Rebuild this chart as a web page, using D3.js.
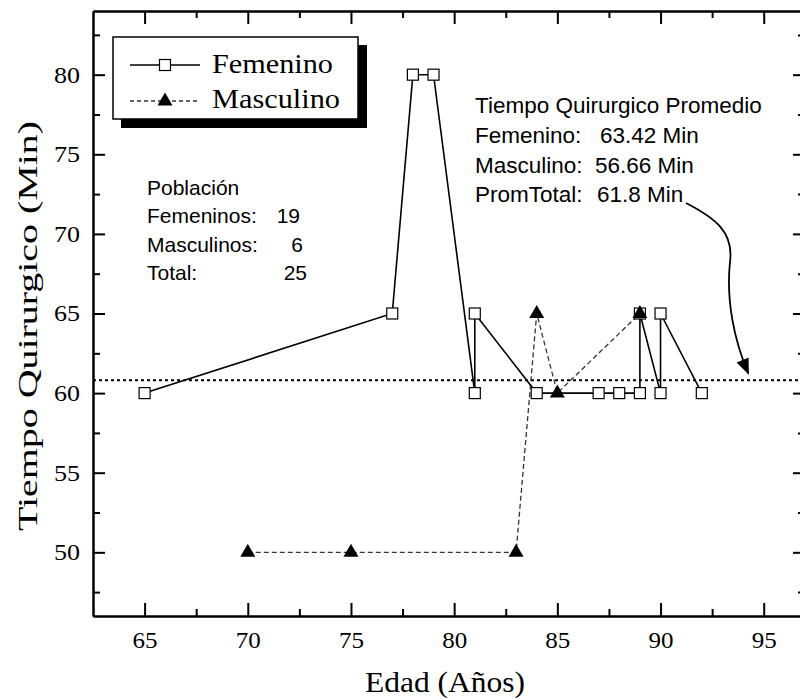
<!DOCTYPE html>
<html>
<head>
<meta charset="UTF-8">
<script src="https://cdn.jsdelivr.net/npm/d3@7"></script>
<style>
  body { margin: 0; background: #fff; }
  svg text.tl { font-family: "Liberation Serif", "Times New Roman", serif !important; }
</style>
</head>
<body>
<script>
// data
var femAge  = [65, 77, 78, 79, 81, 81, 84, 87, 88, 89, 89, 90, 90, 92];
var femTime = [60, 65, 80, 80, 60, 65, 60, 60, 60, 60, 65, 60, 65, 60];
var masAge  = [70, 75, 83, 84, 85, 89];
var masTime = [50, 50, 50, 65, 60, 65];
var meanLine = 60.8;

var xTicks = [65, 70, 75, 80, 85, 90, 95];
var xMinor = [67.5, 72.5, 77.5, 82.5, 87.5, 92.5];
var yTicks = [50, 55, 60, 65, 70, 75, 80];
var yMinor = [47.5, 52.5, 57.5, 62.5, 67.5, 72.5, 77.5, 82.5];

var seriesNames = ["Femenino", "Masculino"];
var statsTitle = "Tiempo Quirurgico Promedio";
var statsLabels = ["Femenino:", "Masculino:", "PromTotal:"];
var statsValues = ["63.42 Min", "56.66 Min", "61.8 Min"];
var popTitle = "Población";
var popLabels = ["Femeninos:", "Masculinos:", "Total:"];
var popValues = ["19", "6", "25"];

var W = 800, H = 698;
var pLeft = 93, pRight = 805, pTop = 11, pBottom = 616;
var serif = "'Liberation Serif', 'Times New Roman', serif";
var sans = "'Liberation Sans', Arial, Helvetica, sans-serif";

var x = d3.scaleLinear().domain([62.5, 97]).range([pLeft, pRight]);
var y = d3.scaleLinear().domain([46, 84]).range([pBottom, pTop]);

var svg = d3.select("body").append("svg")
  .attr("width", W).attr("height", H)
  .style("font-family", serif);

function styleAxis(g) {
  g.attr("font-family", null);
  g.selectAll("path.domain").attr("stroke", "#000").attr("stroke-width", 2);
  g.selectAll(".tick line").attr("stroke", "#000").attr("stroke-width", 2);
  g.selectAll("text").attr("class", "tl").attr("font-family", "Liberation Serif");
  return g;
}

// major + minor ticks on all four sides, pointing inward
var bx = svg.append("g").attr("transform", "translate(0," + pBottom + ")")
  .call(d3.axisBottom(x).tickValues(xTicks).tickSize(-13).tickSizeOuter(0).tickPadding(16));
styleAxis(bx);
bx.selectAll("text").attr("font-size", 23).attr("fill", "#000")
  .attr("textLength", 25).attr("lengthAdjust", "spacingAndGlyphs");
styleAxis(svg.append("g").attr("transform", "translate(0," + pBottom + ")")
  .call(d3.axisBottom(x).tickValues(xMinor).tickSize(-7).tickSizeOuter(0).tickFormat("")));

styleAxis(svg.append("g").attr("transform", "translate(0," + pTop + ")")
  .call(d3.axisTop(x).tickValues(xTicks).tickSize(-13).tickSizeOuter(0).tickFormat("")));
styleAxis(svg.append("g").attr("transform", "translate(0," + pTop + ")")
  .call(d3.axisTop(x).tickValues(xMinor).tickSize(-7).tickSizeOuter(0).tickFormat("")));

var ly = svg.append("g").attr("transform", "translate(" + pLeft + ",0)")
  .call(d3.axisLeft(y).tickValues(yTicks).tickSize(-12).tickSizeOuter(0).tickPadding(13));
styleAxis(ly);
ly.selectAll("text").attr("font-size", 23).attr("fill", "#000")
  .attr("textLength", 26).attr("lengthAdjust", "spacingAndGlyphs");
styleAxis(svg.append("g").attr("transform", "translate(" + pLeft + ",0)")
  .call(d3.axisLeft(y).tickValues(yMinor).tickSize(-7).tickSizeOuter(0).tickFormat("")));

styleAxis(svg.append("g").attr("transform", "translate(" + pRight + ",0)")
  .call(d3.axisRight(y).tickValues(yTicks).tickSize(-12).tickSizeOuter(0).tickFormat("")));
styleAxis(svg.append("g").attr("transform", "translate(" + pRight + ",0)")
  .call(d3.axisRight(y).tickValues(yMinor).tickSize(-7).tickSizeOuter(0).tickFormat("")));

// axis titles
svg.append("text")
  .attr("x", 445).attr("y", 692)
  .attr("text-anchor", "middle")
  .style("font-size", "30px")
  .attr("textLength", 160).attr("lengthAdjust", "spacingAndGlyphs")
  .text("Edad (Años)");

svg.append("text")
  .attr("transform", "translate(37,326) rotate(-90)")
  .attr("text-anchor", "middle")
  .style("font-size", "28px")
  .attr("textLength", 410).attr("lengthAdjust", "spacingAndGlyphs")
  .text("Tiempo Quirurgico (Min)");

// average line
svg.append("line")
  .attr("x1", pLeft).attr("x2", pRight)
  .attr("y1", y(meanLine)).attr("y2", y(meanLine))
  .attr("stroke", "#000").attr("stroke-width", 2)
  .attr("stroke-dasharray", "3,3");

var fem = femAge.map(function(a, i) { return {age: a, t: femTime[i]}; });
var mas = masAge.map(function(a, i) { return {age: a, t: masTime[i]}; });

var line = d3.line()
  .x(function(d) { return x(d.age); })
  .y(function(d) { return y(d.t); });

svg.append("path").datum(mas)
  .attr("d", line)
  .attr("fill", "none").attr("stroke", "#333")
  .attr("stroke-width", 1.3).attr("stroke-dasharray", "5,3");

svg.append("path").datum(fem)
  .attr("d", line)
  .attr("fill", "none").attr("stroke", "#000")
  .attr("stroke-width", 1.6);

var sq = 11;
var tri = "M0,-8.5L7.5,4.5L-7.5,4.5Z";

svg.selectAll("rect.fem").data(fem).enter().append("rect")
  .attr("class", "fem")
  .attr("x", function(d) { return x(d.age) - sq / 2; })
  .attr("y", function(d) { return y(d.t) - sq / 2; })
  .attr("width", sq).attr("height", sq)
  .attr("fill", "#fff").attr("stroke", "#000").attr("stroke-width", 1.2);

svg.selectAll("path.mas").data(mas).enter().append("path")
  .attr("class", "mas")
  .attr("d", tri)
  .attr("transform", function(d) { return "translate(" + x(d.age) + "," + y(d.t) + ")"; })
  .attr("fill", "#000");

// legend with drop shadow
var lg = svg.append("g");
lg.append("rect").attr("x", 121).attr("y", 45).attr("width", 246).attr("height", 83).attr("fill", "#000");
lg.append("rect").attr("x", 113).attr("y", 37).attr("width", 245).attr("height", 82)
  .attr("fill", "#fff").attr("stroke", "#000").attr("stroke-width", 1.5);

lg.append("line").attr("x1", 130).attr("x2", 200).attr("y1", 65).attr("y2", 65)
  .attr("stroke", "#000").attr("stroke-width", 1.6);
lg.append("rect").attr("x", 165 - sq / 2).attr("y", 65 - sq / 2).attr("width", sq).attr("height", sq)
  .attr("fill", "#fff").attr("stroke", "#000").attr("stroke-width", 1.2);
lg.append("line").attr("x1", 130).attr("x2", 200).attr("y1", 101).attr("y2", 101)
  .attr("stroke", "#333").attr("stroke-width", 1.3).attr("stroke-dasharray", "4,3");
lg.append("path").attr("d", tri).attr("transform", "translate(165,101)").attr("fill", "#000");

lg.append("text").attr("x", 212).attr("y", 73).style("font-size", "27px")
  .attr("textLength", 121).attr("lengthAdjust", "spacingAndGlyphs").text(seriesNames[0]);
lg.append("text").attr("x", 212).attr("y", 108).style("font-size", "27px")
  .attr("textLength", 128).attr("lengthAdjust", "spacingAndGlyphs").text(seriesNames[1]);

// annotation: averages
var st = svg.append("g").style("font-family", sans).style("font-size", "22.5px");
st.append("text").attr("x", 475).attr("y", 113).text(statsTitle);
var valX = [600, 595, 597];
statsLabels.forEach(function(s, i) {
  st.append("text").attr("x", 475).attr("y", 143 + i * 29.5).text(s);
  st.append("text").attr("x", valX[i]).attr("y", 143 + i * 29.5).text(statsValues[i]);
});

// annotation: population
var pp = svg.append("g").style("font-family", sans).style("font-size", "21px");
pp.append("text").attr("x", 147).attr("y", 195).text(popTitle);
var popEnd = [300, 303, 307];
popLabels.forEach(function(s, i) {
  pp.append("text").attr("x", 147).attr("y", 223 + i * 28.5).text(s);
  pp.append("text").attr("x", popEnd[i]).attr("y", 223 + i * 28.5)
    .attr("text-anchor", "end").text(popValues[i]);
});

// curved arrow pointing at the average line
svg.append("defs").append("marker")
  .attr("id", "ah").attr("viewBox", "0 0 10 10")
  .attr("refX", 9).attr("refY", 5)
  .attr("markerWidth", 9).attr("markerHeight", 9)
  .attr("orient", "auto")
  .append("path").attr("d", "M0,1L10,5L0,9Z").attr("fill", "#000");

var ax = x(94.3), ay = y(meanLine) - 7;
svg.append("path")
  .attr("d", "M686,203 C715,218 734,232 730,262 C726,300 734,340 " + (ax - 1) + "," + ay)
  .attr("fill", "none").attr("stroke", "#000").attr("stroke-width", 1.8)
  .attr("marker-end", "url(#ah)");
</script>
</body>
</html>
